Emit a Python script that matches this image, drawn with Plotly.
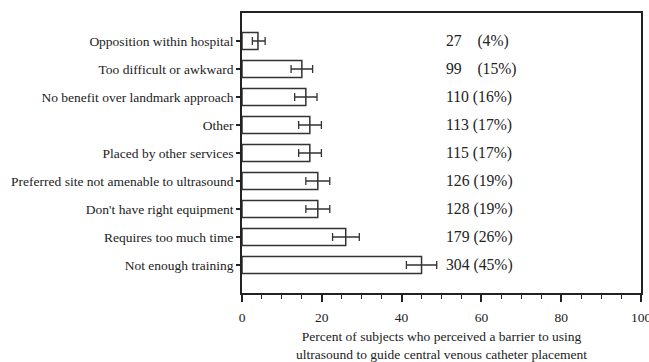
import plotly.graph_objects as go

# Barriers to ultrasound-guided central venous catheter placement
categories = [
    "Opposition within hospital",
    "Too difficult or awkward",
    "No benefit over landmark approach",
    "Other",
    "Placed by other services",
    "Preferred site not amenable to ultrasound",
    "Don't have right equipment",
    "Requires too much time",
    "Not enough training",
]
counts = [27, 99, 110, 113, 115, 126, 128, 179, 304]
percents = [4, 15, 16, 17, 17, 19, 19, 26, 45]
err_minus = [1.4, 2.7, 2.8, 2.8, 2.8, 3.0, 3.0, 3.3, 3.8]
err_plus = [1.8, 2.7, 2.8, 2.9, 2.9, 3.0, 3.0, 3.4, 3.8]

ink = "#222222"
serif = "Liberation Serif, Times New Roman, serif"

fig = go.Figure()
fig.add_trace(go.Bar(
    x=percents,
    y=categories,
    orientation="h",
    width=0.6,
    marker=dict(color="white", line=dict(color="#333333", width=1.5)),
    error_x=dict(type="data", symmetric=False, array=err_plus, arrayminus=err_minus,
                 color="#333333", thickness=1.3, width=4),
    hoverinfo="skip",
))

# Count and percentage labels in a column at the right
for cat, n, p in zip(categories, counts, percents):
    num = str(n)
    pad = "&nbsp;" * (1 + 3 * (3 - len(num)))
    fig.add_annotation(x=50.7, y=cat, xref="x", yref="y", xanchor="left",
                       text=f"{num}{pad}({p}%)", showarrow=False,
                       font=dict(family=serif, size=15.7, color=ink))

fig.update_layout(
    width=649, height=362,
    margin=dict(l=242, r=8, t=13, b=69, autoexpand=False),
    plot_bgcolor="white", paper_bgcolor="white",
    showlegend=False,
    font=dict(family=serif, size=13.5, color=ink),
    xaxis=dict(
        range=[0, 100], dtick=20, tick0=0, automargin=False,
        ticklabeloverflow="allow", ticklabelstandoff=4,
        showgrid=False, zeroline=False,
        showline=True, linecolor=ink, linewidth=1.8, mirror=True,
        ticks="outside", ticklen=7, tickwidth=1.5, tickcolor=ink,
        minor=dict(dtick=5, ticks="outside", ticklen=4, tickwidth=1.3, tickcolor=ink, showgrid=False),
        tickfont=dict(family=serif, size=13.5, color=ink),
        title=dict(text="Percent of subjects who perceived a barrier to using<br>ultrasound to guide central venous catheter placement",
                   font=dict(family=serif, size=13.5, color=ink), standoff=12),
    ),
    yaxis=dict(
        type="category", range=[9, -1], automargin=False,
        showgrid=False, zeroline=False,
        showline=True, linecolor=ink, linewidth=1.8, mirror=True,
        ticks="outside", ticklen=4, tickwidth=1.5, tickcolor=ink,
        tickfont=dict(family=serif, size=13.5, color=ink),
    ),
)

fig.write_html("out.html")
